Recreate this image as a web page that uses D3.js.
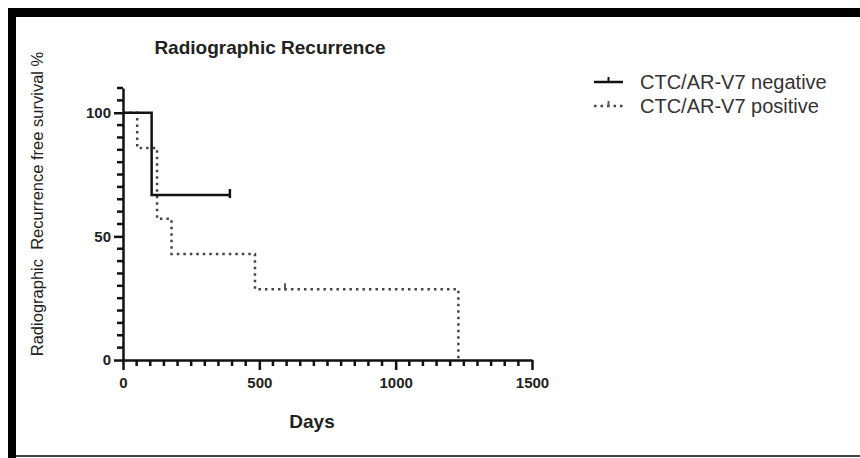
<!DOCTYPE html>
<html>
<head>
<meta charset="utf-8">
<script src="https://cdn.jsdelivr.net/npm/d3@7"></script>
<style>
  body { margin: 0; background: #fff; }
  svg { display: block; font-family: "Liberation Sans", Arial, sans-serif; }
</style>
</head>
<body>
<script>
// Kaplan-Meier steps
const negTimes = [0, 105, 392];
const negSurv = [100, 66.7, 66.7];
const negCensor = [392];

const posTimes = [0, 52, 125, 178, 484, 1230];
const posSurv = [100, 85.7, 57.1, 42.9, 28.6, 0];
const posCensor = [594];

const xMajor = [0, 500, 1000, 1500];
const yMajor = [0, 50, 100];
const legendNames = ["CTC/AR-V7 negative", "CTC/AR-V7 positive"];

const w = 860, h = 458;
const svg = d3.select("body").append("svg")
  .attr("width", w)
  .attr("height", h);

// frame round the picture
svg.append("rect").attr("x", 8).attr("y", 8).attr("width", 852).attr("height", 9).attr("fill", "#000");
svg.append("rect").attr("x", 8).attr("y", 8).attr("width", 8).attr("height", 450).attr("fill", "#000");
svg.append("rect").attr("x", 16).attr("y", 455).attr("width", 844).attr("height", 2).attr("fill", "#444");

const x = d3.scaleLinear().domain([0, 1500]).range([123, 532]);
const y = d3.scaleLinear().domain([0, 110]).range([360, 88]);

// minor ticks every 50 days / 5 %
const xMinor = d3.range(0, 1501, 50).filter(d => d % 500 !== 0);
const yMinor = d3.range(0, 111, 5).filter(d => d % 50 !== 0);

svg.append("g").selectAll("line").data(xMinor).enter().append("line")
  .attr("x1", d => x(d)).attr("x2", d => x(d))
  .attr("y1", y(0)).attr("y2", y(0) + 6)
  .attr("stroke", "#111").attr("stroke-width", 2.5);
svg.append("g").selectAll("line").data(yMinor).enter().append("line")
  .attr("x1", x(0) - 6).attr("x2", x(0))
  .attr("y1", d => y(d)).attr("y2", d => y(d))
  .attr("stroke", "#111").attr("stroke-width", 2.5);

const gx = svg.append("g").attr("transform", "translate(0," + y(0) + ")")
  .call(d3.axisBottom(x).tickValues(xMajor).tickSize(10).tickSizeOuter(0).tickPadding(7).tickFormat(d3.format("d")));

const gy = svg.append("g").attr("transform", "translate(" + x(0) + ",0)")
  .call(d3.axisLeft(y).tickValues(yMajor).tickSize(9).tickSizeOuter(0).tickPadding(3));

svg.selectAll(".domain").attr("stroke", "#111").attr("stroke-width", 2.5);
svg.selectAll(".tick line").attr("stroke", "#111").attr("stroke-width", 2.5);
svg.selectAll(".tick text")
  .attr("font-family", "Liberation Sans, Arial, sans-serif")
  .attr("font-size", 15)
  .attr("font-weight", "bold")
  .attr("fill", "#222");

// step curves
const step = d3.line().x(d => x(d[0])).y(d => y(d[1])).curve(d3.curveStepAfter);

svg.append("path")
  .datum(d3.zip(posTimes, posSurv))
  .attr("d", step)
  .attr("fill", "none")
  .attr("stroke", "#444")
  .attr("stroke-width", 2.5)
  .attr("stroke-dasharray", "2.5,4");

svg.append("path")
  .datum(d3.zip(negTimes, negSurv))
  .attr("d", step)
  .attr("fill", "none")
  .attr("stroke", "#111")
  .attr("stroke-width", 2.5);

function survAt(times, surv, t) {
  let s = surv[0];
  times.forEach((tt, i) => { if (tt <= t) s = surv[i]; });
  return s;
}

svg.selectAll(".cneg").data(negCensor).enter().append("line")
  .attr("x1", d => x(d)).attr("x2", d => x(d))
  .attr("y1", d => y(survAt(negTimes, negSurv, d)) - 6)
  .attr("y2", d => y(survAt(negTimes, negSurv, d)) + 3)
  .attr("stroke", "#111").attr("stroke-width", 2.5);

svg.selectAll(".cpos").data(posCensor).enter().append("line")
  .attr("x1", d => x(d)).attr("x2", d => x(d))
  .attr("y1", d => y(survAt(posTimes, posSurv, d)) - 6)
  .attr("y2", d => y(survAt(posTimes, posSurv, d)) + 1)
  .attr("stroke", "#555").attr("stroke-width", 2);

// titles
svg.append("text")
  .attr("x", 270).attr("y", 54)
  .attr("text-anchor", "middle")
  .attr("font-size", 19).attr("font-weight", "bold").attr("fill", "#222")
  .text("Radiographic Recurrence");

svg.append("text")
  .attr("x", 312).attr("y", 428)
  .attr("text-anchor", "middle")
  .attr("font-size", 19).attr("font-weight", "bold").attr("fill", "#222")
  .text("Days");

svg.append("text")
  .attr("transform", "translate(43,204) rotate(-90)")
  .attr("text-anchor", "middle")
  .attr("font-size", 16.5).attr("fill", "#222")
  .attr("xml:space", "preserve")
  .text("Radiographic  Recurrence free survival %");

// legend
const leg = svg.selectAll(".leg").data(legendNames).enter().append("g")
  .attr("transform", (d, i) => "translate(594," + (82 + i * 24) + ")");
leg.append("line")
  .attr("x1", 0).attr("x2", 29).attr("y1", 0).attr("y2", 0)
  .attr("stroke", (d, i) => i ? "#444" : "#111")
  .attr("stroke-width", 2.5)
  .attr("stroke-dasharray", (d, i) => i ? "2.5,4" : null);
leg.append("line")
  .attr("x1", 14.5).attr("x2", 14.5).attr("y1", -5).attr("y2", 1)
  .attr("stroke", (d, i) => i ? "#555" : "#111")
  .attr("stroke-width", 2);
leg.append("text")
  .attr("x", 46).attr("y", 0).attr("dy", "0.35em")
  .attr("font-size", 20).attr("fill", "#333")
  .text(d => d);
</script>
</body>
</html>
